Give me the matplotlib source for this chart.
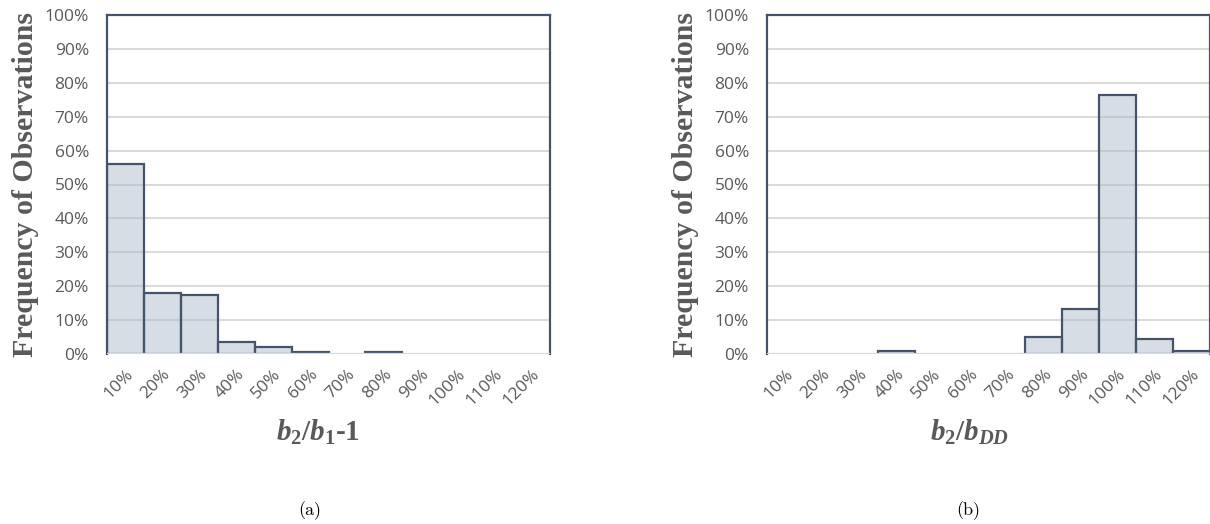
import matplotlib
matplotlib.use("Agg")
import matplotlib.pyplot as plt
import numpy as np
from matplotlib.ticker import PercentFormatter

# Bin labels shared by both histograms
bin_labels = ["10%", "20%", "30%", "40%", "50%", "60%", "70%",
              "80%", "90%", "100%", "110%", "120%"]

# Share of observations per bin (%)
freq_a = [56.0, 17.9, 17.3, 3.4, 2.1, 0.7, 0.0, 0.7, 0.0, 0.0, 0.0, 0.0]
freq_b = [0.0, 0.0, 0.0, 0.8, 0.0, 0.0, 0.0, 5.0, 13.2, 76.4, 4.4, 0.9]

y_ticks = list(range(0, 101, 10))

# Styles
EDGE = "#44546a"
FILL = (0.66, 0.71, 0.77, 0.45)
GRID = "#d9d9d9"
TEXT = "#595959"

plt.rcParams["mathtext.fontset"] = "custom"
plt.rcParams["mathtext.it"] = "Liberation Serif:italic:bold"
plt.rcParams["mathtext.rm"] = "Liberation Serif:bold"
plt.rcParams["mathtext.bf"] = "Liberation Serif:bold"


def draw_hist(ax, values):
    x = np.arange(len(bin_labels))
    vals = np.array(values)
    lw = np.where(vals > 0, 1.6, 0.0)
    ax.bar(x, vals, width=1.0, facecolor=FILL, edgecolor=EDGE,
           linewidth=lw, zorder=2)
    # baseline drawn over the bar bottoms
    ax.axhline(0, color=GRID, linewidth=1.6, zorder=3)

    ax.set_xlim(-0.5, len(bin_labels) - 0.5)
    ax.set_ylim(0, 100)
    ax.set_yticks(y_ticks)
    ax.yaxis.set_major_formatter(PercentFormatter(decimals=0))
    ax.set_xticks(x)
    ax.set_xticklabels(bin_labels, rotation=45, ha="right",
                       rotation_mode="anchor")
    ax.grid(axis="y", color=GRID, linewidth=1.4, zorder=1)
    ax.set_axisbelow(True)

    for side in ["top", "right", "left"]:
        ax.spines[side].set_color(EDGE)
        ax.spines[side].set_linewidth(1.6)
    ax.spines["bottom"].set_visible(False)

    ax.tick_params(axis="both", length=0, colors=TEXT, labelsize=12.5)
    ax.tick_params(axis="x", pad=9)
    ax.tick_params(axis="y", pad=13)
    for lab in ax.get_xticklabels() + ax.get_yticklabels():
        lab.set_fontfamily("Open Sans")

    ax.set_ylabel("Frequency of Observations", family="Liberation Serif",
                  fontweight="bold", fontsize=21.5, color=TEXT, labelpad=4)


fig = plt.figure(figsize=(12.10, 5.24), dpi=100)
ax_a = fig.add_axes([107 / 1210, 1 - 354 / 524, 443 / 1210, 339 / 524])
ax_b = fig.add_axes([767 / 1210, 1 - 354 / 524, 443 / 1210, 339 / 524])

draw_hist(ax_a, freq_a)
draw_hist(ax_b, freq_b)

fig.text(318 / 1210, 1 - 432 / 524, r"$b_2/b_1$-1", ha="center", va="center",
         family="Liberation Serif", fontweight="bold", fontsize=21, color=TEXT)
fig.text(970 / 1210, 1 - 432 / 524, r"$b_2/b_{DD}$", ha="center", va="center",
         family="Liberation Serif", fontweight="bold", fontsize=21, color=TEXT)

fig.text(310 / 1210, 1 - 511 / 524, "(a)", ha="center", va="center",
         family="cmr10", fontsize=13, color="black")
fig.text(968 / 1210, 1 - 511 / 524, "(b)", ha="center", va="center",
         family="cmr10", fontsize=13, color="black")

fig.savefig("out.png", dpi=100)
